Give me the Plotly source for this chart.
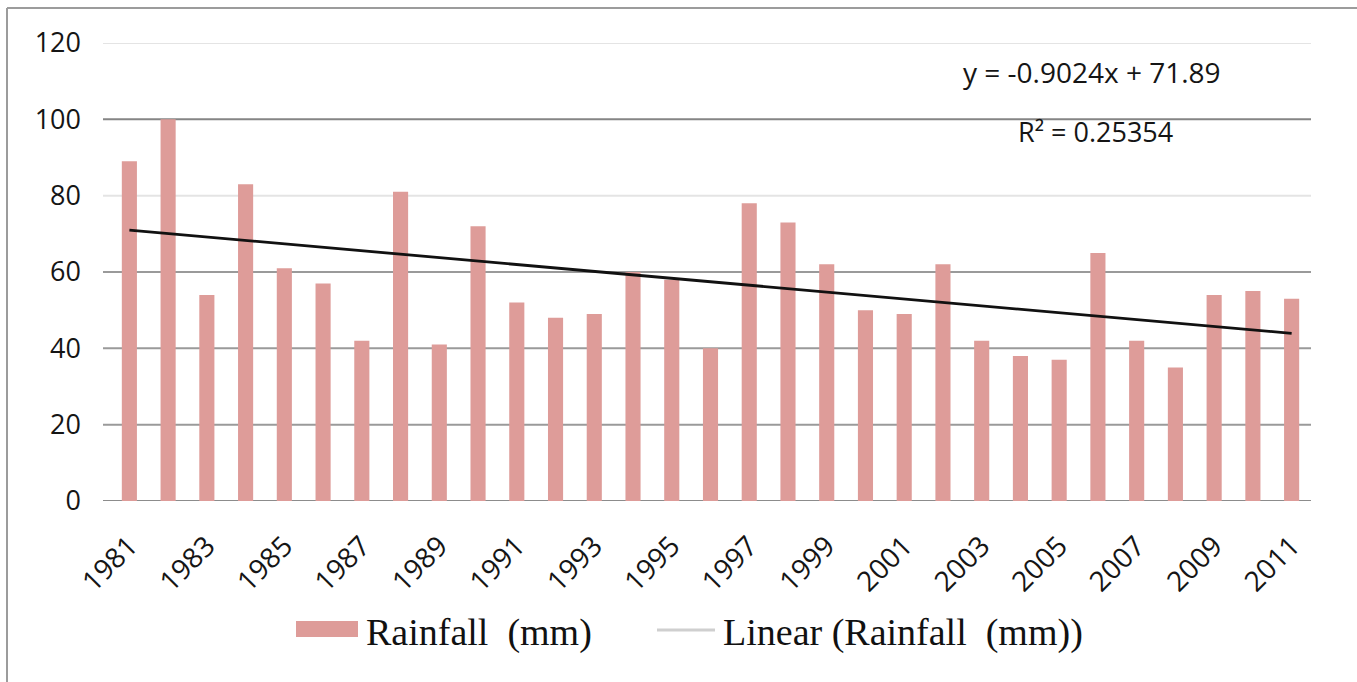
import plotly.graph_objects as go

# Annual rainfall series
years = list(range(1981, 2012))
rainfall_mm = [89, 100, 54, 83, 61, 57, 42, 81, 41, 72, 52, 48, 49, 60, 58, 40,
               78, 73, 62, 50, 49, 62, 42, 38, 37, 65, 42, 35, 54, 55, 53]

# Axis ticks
y_ticks = [0, 20, 40, 60, 80, 100, 120]
x_tick_years = years[::2]

# Linear trend fitted on the series index (x = 1 for 1981)
trend_slope = -0.9024
trend_intercept = 71.89
trend_r2 = 0.25354
trend_y = [trend_slope * (i + 1) + trend_intercept for i in range(len(years))]

# Figure geometry (pixels)
W, H = 1357, 682
ML, MR, MT, MB = 110, 46, 43, 181
PW, PH = W - ML - MR, H - MT - MB


def px(x):
    return (x - ML) / PW


def py(y):
    return (H - MB - y) / PH


BAR_COLOR = "#DE9C99"
SANS = "Open Sans, Lato, sans-serif"
SERIF = "Liberation Serif, Times New Roman, serif"
TEXT = "#151515"

fig = go.Figure()
fig.add_trace(go.Bar(x=years, y=rainfall_mm, name="Rainfall  (mm)",
                     marker=dict(color=BAR_COLOR, line=dict(width=0))))
fig.add_trace(go.Scatter(x=years, y=trend_y, mode="lines",
                         name="Linear (Rainfall  (mm))",
                         line=dict(color="#111111", width=2.8)))

# Horizontal gridlines
grid_colors = {0: "#8c8c8c", 20: "#9a9a9a", 40: "#9a9a9a", 60: "#9a9a9a",
               80: "#e4e4e4", 100: "#858585", 120: "#e4e4e4"}
shapes = []
for v in y_ticks:
    shapes.append(dict(type="line", xref="paper", yref="y", x0=px(103), x1=1.0,
                       y0=v, y1=v, layer="below",
                       line=dict(color=grid_colors[v], width=2)))

# Outer chart frame
shapes.append(dict(type="line", xref="paper", yref="paper", x0=px(7), x1=px(W + 5),
                   y0=py(8), y1=py(8), line=dict(color="#9c9c9c", width=2)))
shapes.append(dict(type="line", xref="paper", yref="paper", x0=px(7), x1=px(7),
                   y0=py(8), y1=py(H + 5), line=dict(color="#9c9c9c", width=2)))

# Legend swatches
shapes.append(dict(type="rect", xref="paper", yref="paper", x0=px(296), x1=px(358),
                   y0=py(637), y1=py(621), fillcolor=BAR_COLOR, line=dict(width=0)))
shapes.append(dict(type="line", xref="paper", yref="paper", x0=px(657), x1=px(715),
                   y0=py(630), y1=py(630), line=dict(color="#cfcfcf", width=3)))

annotations = [
    dict(text=f"y = {trend_slope}x + {trend_intercept}", xref="paper", yref="paper",
         x=px(1092), y=py(72), showarrow=False, xanchor="center", yanchor="middle",
         font=dict(family=SANS, size=28, color=TEXT)),
    dict(text=f"R² = {trend_r2}", xref="paper", yref="paper",
         x=px(1095), y=py(132), showarrow=False, xanchor="center", yanchor="middle",
         font=dict(family=SANS, size=27, color=TEXT)),
    dict(text="Rainfall \u00a0(mm)", xref="paper", yref="paper",
         x=px(364), y=py(632), showarrow=False, xanchor="left", yanchor="middle",
         font=dict(family=SERIF, size=38, color="#111111")),
    dict(text="Linear (Rainfall \u00a0(mm))", xref="paper", yref="paper",
         x=px(721), y=py(632), showarrow=False, xanchor="left", yanchor="middle",
         font=dict(family=SERIF, size=38, color="#111111")),
]

fig.update_layout(
    width=W, height=H,
    margin=dict(l=ML, r=MR, t=MT, b=MB, pad=0),
    paper_bgcolor="white", plot_bgcolor="white",
    showlegend=False,
    bargap=0.61,
    shapes=shapes,
    annotations=annotations,
    xaxis=dict(type="linear", range=[1980.5, 2011.5], tickmode="array",
               tickvals=x_tick_years, ticktext=[str(y) for y in x_tick_years],
               tickangle=-45, showgrid=False, zeroline=False, showline=False,
               ticks="", ticklabelstandoff=22,
               tickfont=dict(family=SANS, size=28, color=TEXT)),
    yaxis=dict(range=[0, 120], tickmode="array", tickvals=y_ticks,
               showgrid=False, zeroline=False, showline=False, ticks="",
               ticklabelstandoff=28,
               tickfont=dict(family=SANS, size=27, color=TEXT)),
)

fig.write_html("out.html")
